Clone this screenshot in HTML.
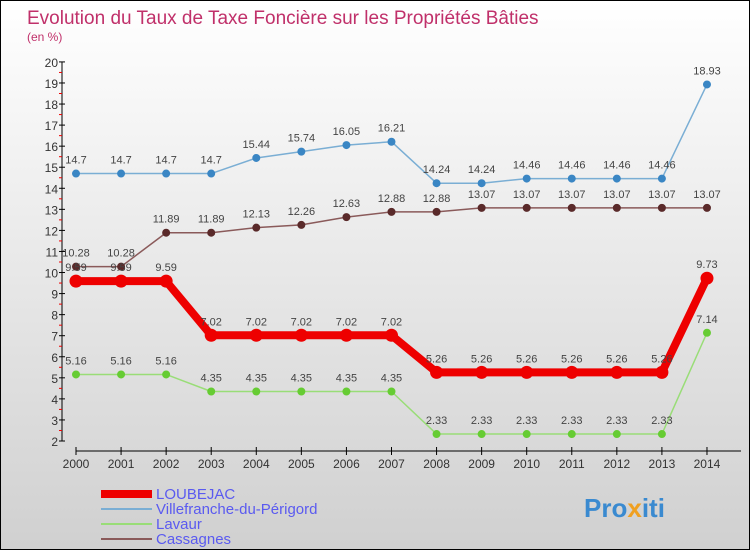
<!DOCTYPE html>
<html><head><meta charset="utf-8"><style>
body{margin:0}
#c{width:750px;height:550px;position:relative;box-sizing:border-box;border:1px solid #000;background:linear-gradient(#ffffff,#d0d0d0);font-family:"Liberation Sans",sans-serif;overflow:hidden}
</style></head><body>
<div id="c">
<svg id="s" width="748" height="548" style="position:absolute;left:0;top:0">
<text x="26" y="23" font-size="19" fill="#c0306a">Evolution du Taux de Taxe Foncière sur les Propriétés Bâties</text>
<text x="26" y="40" font-size="12" fill="#c0306a">(en %)</text>
<g id="axes"></g><g id="series"></g>
<g>
<rect x="100" y="489" width="51" height="8" fill="#e00"/>
<text x="155" y="498" font-size="15" fill="#5a5af0">LOUBEJAC</text>
<rect x="100" y="507" width="51" height="2" fill="#7aaed4"/>
<text x="155" y="513" font-size="15" fill="#5a5af0">Villefranche-du-Périgord</text>
<rect x="100" y="522" width="51" height="2" fill="#99dd77"/>
<text x="155" y="528" font-size="15" fill="#5a5af0">Lavaur</text>
<rect x="100" y="537" width="51" height="2" fill="#8a5a5a"/>
<text x="155" y="543" font-size="15" fill="#5a5af0">Cassagnes</text>
</g>
<text x="583" y="516" font-size="26" font-weight="bold" fill="#3a8ad0">Pro<tspan fill="#f0a020">x</tspan>iti</text>
</svg>
</div>
<script>
const years=[2000,2001,2002,2003,2004,2005,2006,2007,2008,2009,2010,2011,2012,2013,2014];
const villefranche=[14.7,14.7,14.7,14.7,15.44,15.74,16.05,16.21,14.24,14.24,14.46,14.46,14.46,14.46,18.93];
const cassagnes=[10.28,10.28,11.89,11.89,12.13,12.26,12.63,12.88,12.88,13.07,13.07,13.07,13.07,13.07,13.07];
const loubejac=[9.59,9.59,9.59,7.02,7.02,7.02,7.02,7.02,5.26,5.26,5.26,5.26,5.26,5.26,9.73];
const lavaur=[5.16,5.16,5.16,4.35,4.35,4.35,4.35,4.35,2.33,2.33,2.33,2.33,2.33,2.33,7.14];
const yTicks=[2,3,4,5,6,7,8,9,10,11,12,13,14,15,16,17,18,19,20];
const NS="http://www.w3.org/2000/svg";
const xs=i=>75+i*45.07;
const ys=v=>440-(v-2)*21.06;
function mk(t,a,p){const e=document.createElementNS(NS,t);for(const k in a)e.setAttribute(k,a[k]);p.appendChild(e);return e;}
const ax=document.getElementById('axes');
let yl=mk('line',{x1:61,x2:61,y1:ys(20),y2:ys(2),stroke:'#000'},ax);


yTicks.forEach(v=>{
 mk('line',{x1:58,x2:64,y1:ys(v),y2:ys(v),stroke:'#000'},ax);
 if(v<20)mk('line',{x1:58,x2:61,y1:ys(v+0.5),y2:ys(v+0.5),stroke:'#e00'},ax);
 const t=mk('text',{x:57,y:ys(v)+5,'font-size':12,'text-anchor':'end',fill:'#333'},ax);t.textContent=v;
 
 
});
let xl=mk('line',{x1:75,x2:740,y1:450,y2:450,stroke:'#000'},ax);


years.forEach((y,i)=>{
 mk('line',{x1:xs(i),x2:xs(i),y1:446,y2:454,stroke:'#000'},ax);
 const t=mk('text',{x:xs(i),y:467,'font-size':12,'text-anchor':'middle',fill:'#333'},ax);t.textContent=y;
 
 
});
const sg=document.getElementById('series');
function series(name,data,col,dot,w,r){
 const g=mk('g',{},sg);
 
 
 mk('polyline',{points:data.map((v,i)=>xs(i)+','+ys(v)).join(' '),fill:'none',stroke:col,'stroke-width':w,'stroke-linejoin':'round'},g);
 data.forEach((v,i)=>{
  const c=mk('circle',{cx:xs(i),cy:ys(v),r:r,fill:dot,stroke:dot},g);
  
  
  const t=mk('text',{x:xs(i),y:ys(v)-10,'font-size':11,'text-anchor':'middle',fill:'#444'},g);
  t.textContent=String(v).replace(/\.?0+$/,'');
  
  
 });
}
series('villefranche',villefranche,'#7aaed4','#3a86c4',1.5,3.5);
series('cassagnes',cassagnes,'#8a5a5a','#5a2a2a',1.5,3.5);
series('lavaur',lavaur,'#99dd77','#66cc33',1.5,3.5);
series('loubejac',loubejac,'#e00','#e00',8,6);
</script>
</body></html>
